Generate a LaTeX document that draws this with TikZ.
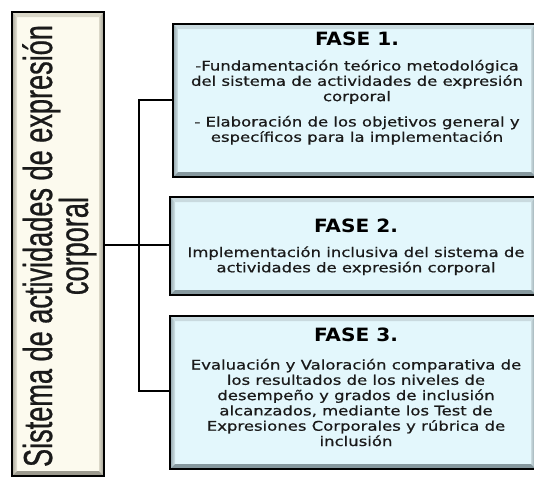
\documentclass[tikz,border=0pt]{standalone}
\usepackage{fontspec}
\usetikzlibrary{calc}
\newfontfamily\bodyfont[FakeStretch=1.24,FakeBold=0.7]{DejaVu Sans}
\newfontfamily\headfont[FakeStretch=1.1]{DejaVu Sans}
\newfontfamily\sidefont[FakeStretch=0.67,FakeBold=0.6]{Liberation Sans}
\newcommand\stack[1]{\begin{tabular}[t]{@{}c@{}}#1\end{tabular}}
\definecolor{boxfill}{HTML}{E3F7FC}
\definecolor{bevlight}{HTML}{C9DADF}
\definecolor{bevdark}{HTML}{86989E}
\definecolor{sidefill}{HTML}{FCFAEE}
\definecolor{sidelight}{HTML}{DAD7C8}
\definecolor{sidedark}{HTML}{9C9A8E}
\definecolor{txt}{HTML}{1A1A1A}
\tikzset{
  bevel/.style n args={3}{fill=#1, draw=black, line width=2pt, inner sep=0pt, outer sep=0pt,
    path picture={
      \path (path picture bounding box.north west) coordinate (pnw)
            (path picture bounding box.south east) coordinate (pse);
      \coordinate (pne) at (pnw -| pse);
      \coordinate (psw) at (pnw |- pse);
      \fill[#2] (pnw) -- (pne) -- ($(pne)+(-5pt,-5pt)$) -- ($(pnw)+(5pt,-5pt)$) -- cycle;
      \shade[left color=#3!80!#2, right color=#2!60!#1] (pnw) -- ($(pnw)+(5pt,-5pt)$) -- ($(psw)+(5pt,5pt)$) -- (psw) -- cycle;
      \shade[left color=#2, right color=#3] (pne) -- (pse) -- ($(pse)+(-5pt,5pt)$) -- ($(pne)+(-5pt,-5pt)$) -- cycle;
      \fill[#3] (psw) -- (pse) -- ($(pse)+(-5pt,5pt)$) -- ($(psw)+(5pt,5pt)$) -- cycle;
    }},
  fasebox/.style={bevel={boxfill}{bevlight}{bevdark}},
  sidebox/.style={bevel={sidefill}{sidelight}{sidedark}},
  headtxt/.style={anchor=base, inner sep=0pt, text=black, font=\headfont\bfseries\fontsize{18.3}{20}\selectfont},
  bodytxt/.style={anchor=base, inner sep=0pt, text=txt, font=\bodyfont\fontsize{13.3}{15.3}\selectfont},
  sidetxt/.style={anchor=base, inner sep=0pt, text=txt, font=\sidefont\fontsize{40.5}{36}\selectfont},
  conn/.style={draw=black, line width=2.8pt}
}
\begin{document}
\begin{tikzpicture}[x=1pt, y=-1pt]
\useasboundingbox (0,0) rectangle (534,477);
\clip (0,0) rectangle (534,477);
% junction points
\coordinate (j1) at (139,100);
\coordinate (j2) at (139,245);
\coordinate (j3) at (139,391);
% boxes (placeholders for connectors first)
\path (58,244) node[minimum width=92pt, minimum height=464pt, inner sep=0pt, outer sep=0pt] (L) {};
\path (354.5,100.5) node[minimum width=363pt, minimum height=153pt, inner sep=0pt, outer sep=0pt] (B1) {};
\path (353,246) node[minimum width=366pt, minimum height=98pt, inner sep=0pt, outer sep=0pt] (B2) {};
\path (353,392.5) node[minimum width=366pt, minimum height=153pt, inner sep=0pt, outer sep=0pt] (B3) {};
% connectors
\draw[conn] (L.east |- j2) -- (B2.west |- j2);
\draw[conn] (B1.west |- j1) -- (j1) -- (j3) -- (B3.west |- j3);
% visible boxes
\node[sidebox, minimum width=92pt, minimum height=464pt] (Lbox) at (L) {};
\node[fasebox, minimum width=363pt, minimum height=153pt] (B1box) at (B1) {};
\node[fasebox, minimum width=366pt, minimum height=98pt] (B2box) at (B2) {};
\node[fasebox, minimum width=366pt, minimum height=153pt] (B3box) at (B3) {};
% side text
\node[sidetxt, rotate=90] (st) at (52,246) {\stack{\smash{Sistema de actividades de expresión}\\\smash{corporal}}};
% box 1
\node[headtxt] (h1) at (357,45) {FASE 1.};
\node[bodytxt] (t1a) at (357,70.5) {\stack{-Fundamentación teórico metodológica\\del sistema de actividades de expresión\\corporal}};
\node[bodytxt] (t1b) at (357,126.5) {\stack{- Elaboración de los objetivos general y\\específicos para la implementación}};
% box 2
\node[headtxt] (h2) at (356,232) {FASE 2.};
\node[bodytxt] (t2) at (356,257) {\stack{Implementación inclusiva del sistema de\\actividades de expresión corporal}};
% box 3
\node[headtxt] (h3) at (356,341) {FASE 3.};
\node[bodytxt] (t3) at (356,369.5) {\stack{Evaluación y Valoración comparativa de\\los resultados de los niveles de\\desempeño y grados de inclusión\\alcanzados, mediante los Test de\\Expresiones Corporales y rúbrica de\\inclusión}};
\end{tikzpicture}
\end{document}
